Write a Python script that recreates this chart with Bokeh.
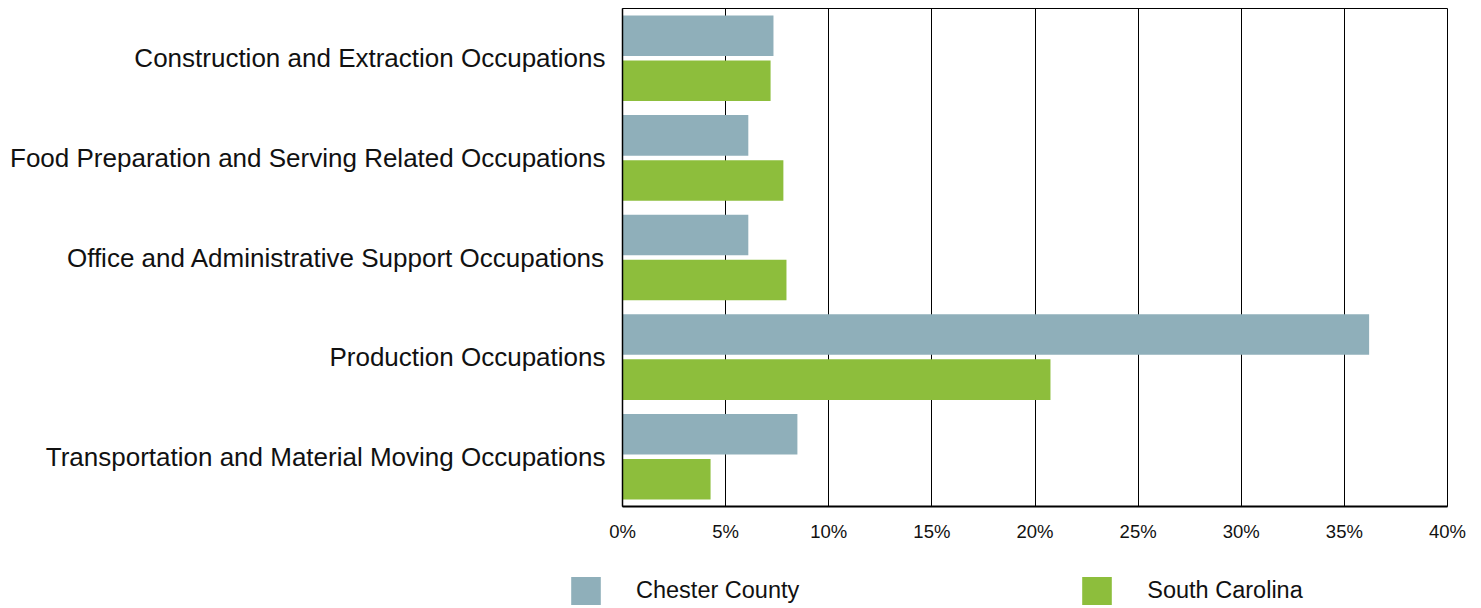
from bokeh.plotting import figure
from bokeh.layouts import column, row
from bokeh.models import ColumnDataSource, FactorRange, Range1d, Legend, LegendItem, NumeralTickFormatter, FixedTicker
from bokeh.transform import dodge
from bokeh.embed import file_html
from bokeh.resources import INLINE

categories = [
    "Construction and Extraction Occupations",
    "Food Preparation and Serving Related Occupations",
    "Office and Administrative Support Occupations",
    "Production Occupations",
    "Transportation and Material Moving Occupations",
]
chester = [0.0732, 0.0610, 0.0610, 0.3620, 0.0848]
south_carolina = [0.0718, 0.0780, 0.0795, 0.2075, 0.0427]
x_ticks = [0, 0.05, 0.10, 0.15, 0.20, 0.25, 0.30, 0.35, 0.40]
series_names = ["Chester County", "South Carolina"]

CHESTER_COLOR = "#8FAFBA"
SC_COLOR = "#8DBE3C"
FONT = "Liberation Sans"

source = ColumnDataSource(dict(cat=categories, chester=chester, sc=south_carolina))

p = figure(
    width=1481, height=560,
    y_range=FactorRange(factors=list(reversed(categories)), range_padding=0),
    x_range=Range1d(0, 0.40),
    output_backend="svg", toolbar_location=None,
    min_border_left=622, min_border_right=34, min_border_top=8, min_border_bottom=54,
)

r1 = p.hbar(y=dodge("cat", 0.226, range=p.y_range), right="chester", left=0, height=0.407,
            source=source, fill_color=CHESTER_COLOR, line_color=None)
r2 = p.hbar(y=dodge("cat", -0.226, range=p.y_range), right="sc", left=0, height=0.407,
            source=source, fill_color=SC_COLOR, line_color=None)

p.outline_line_color = "black"
p.outline_line_width = 1
p.ygrid.grid_line_color = None
p.xgrid.grid_line_color = "black"
p.xgrid.grid_line_width = 1
p.xgrid.ticker = FixedTicker(ticks=x_ticks)

p.xaxis.ticker = FixedTicker(ticks=x_ticks)
p.xaxis.formatter = NumeralTickFormatter(format="0%")
p.xaxis.major_tick_line_color = None
p.xaxis.minor_tick_line_color = None
p.xaxis.major_tick_out = 0
p.xaxis.major_label_standoff = 14
p.xaxis.major_label_text_font = FONT
p.xaxis.major_label_text_font_size = "18.5px"
p.xaxis.major_label_text_color = "#111111"
p.xaxis.axis_line_color = "black"
p.xaxis.axis_line_width = 2

p.yaxis.major_tick_line_color = None
p.yaxis.minor_tick_line_color = None
p.yaxis.major_tick_out = 0
p.yaxis.major_label_standoff = 17
p.yaxis.major_label_text_font = FONT
p.yaxis.major_label_text_font_size = "26px"
p.yaxis.major_label_text_color = "#111111"
p.yaxis.axis_line_color = "black"
p.yaxis.axis_line_width = 1.5

# Legend strip below the chart
lp = figure(width=1481, height=48, x_range=Range1d(0, 1), y_range=Range1d(0, 1),
            output_backend="svg", toolbar_location=None,
            x_axis_location=None, y_axis_location=None,
            min_border_left=0, min_border_right=0, min_border_top=0, min_border_bottom=0)
lp.outline_line_color = None
lp.xgrid.grid_line_color = None
lp.ygrid.grid_line_color = None
# legend-only swatch renderers, placed outside the visible range
d1 = lp.hbar(y=[-10], right=[0], left=[0], height=0.1, fill_color=CHESTER_COLOR, line_color=None)
d2 = lp.hbar(y=[-10], right=[0], left=[0], height=0.1, fill_color=SC_COLOR, line_color=None)

legend = Legend(items=[LegendItem(label=series_names[0], renderers=[d1]),
                       LegendItem(label=series_names[1], renderers=[d2])],
                location=(567, 0), orientation="horizontal",
                glyph_width=37, glyph_height=35, label_height=35,
                label_standoff=32, padding=0, margin=0, spacing=279,
                border_line_color=None, background_fill_alpha=0,
                label_text_font=FONT, label_text_font_size="23.5px",
                label_text_color="#111111")
lp.add_layout(legend, "center")

layout = column(p, row(lp, spacing=0), spacing=0)
open("out.html", "w").write(file_html(layout, INLINE))
